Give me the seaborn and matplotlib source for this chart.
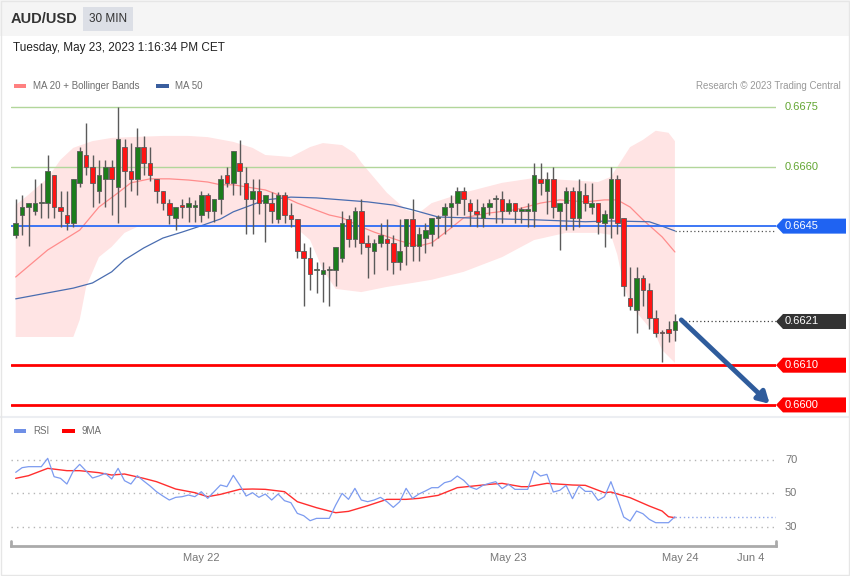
import numpy as np
import pandas as pd
import seaborn as sns
import matplotlib.pyplot as plt
import matplotlib.transforms as mtransforms
from matplotlib.patches import Rectangle, Polygon
from matplotlib.lines import Line2D

# ---- data (30 min candles, AUD/USD) ----
opens = [
    0.66428, 0.66478, 0.66499, 0.66488, 0.66507, 0.66509, 0.66579, 0.66499, 0.66478, 0.66459,
    0.66558, 0.66629, 0.66600, 0.66539, 0.66569, 0.66600, 0.66548, 0.66649, 0.66589, 0.66569,
    0.66649, 0.66608, 0.66569, 0.66539, 0.66509, 0.66470, 0.66500, 0.66499, 0.66499, 0.66479,
    0.66529, 0.66488, 0.66518, 0.66579, 0.66558, 0.66608, 0.66558, 0.66518, 0.66539, 0.66509,
    0.66509, 0.66468, 0.66529, 0.66478, 0.66468, 0.66388, 0.66369, 0.66340, 0.66329, 0.66340,
    0.66340, 0.66369, 0.66468, 0.66418, 0.66488, 0.66408, 0.66388, 0.66408, 0.66418, 0.66408,
    0.66359, 0.66401, 0.66468, 0.66401, 0.66420, 0.66430, 0.66470, 0.66478, 0.66499, 0.66509,
    0.66539, 0.66509, 0.66489, 0.66470, 0.66499, 0.66518, 0.66518, 0.66489, 0.66509, 0.66489,
    0.66489, 0.66489, 0.66568, 0.66539, 0.66568, 0.66489, 0.66509, 0.66539, 0.66470, 0.66529,
    0.66499, 0.66509, 0.66459, 0.66470, 0.66568, 0.66470, 0.66270, 0.66239, 0.66319, 0.66289,
    0.66220, 0.66181, 0.66191, 0.66189]
highs = [
    0.66519, 0.66529, 0.66509, 0.66569, 0.66559, 0.66629, 0.66579, 0.66539, 0.66539, 0.66569,
    0.66650, 0.66709, 0.66629, 0.66617, 0.66617, 0.66617, 0.66749, 0.66669, 0.66659, 0.66698,
    0.66678, 0.66649, 0.66569, 0.66539, 0.66518, 0.66499, 0.66518, 0.66523, 0.66516, 0.66539,
    0.66534, 0.66518, 0.66579, 0.66600, 0.66638, 0.66667, 0.66598, 0.66569, 0.66569, 0.66529,
    0.66537, 0.66537, 0.66537, 0.66508, 0.66468, 0.66408, 0.66398, 0.66359, 0.66359, 0.66350,
    0.66398, 0.66488, 0.66478, 0.66499, 0.66518, 0.66428, 0.66418, 0.66457, 0.66468, 0.66428,
    0.66468, 0.66468, 0.66518, 0.66449, 0.66459, 0.66470, 0.66478, 0.66508, 0.66529, 0.66549,
    0.66549, 0.66518, 0.66518, 0.66509, 0.66518, 0.66529, 0.66539, 0.66518, 0.66509, 0.66499,
    0.66508, 0.66608, 0.66608, 0.66587, 0.66598, 0.66509, 0.66549, 0.66549, 0.66568, 0.66558,
    0.66558, 0.66509, 0.66491, 0.66598, 0.66579, 0.66470, 0.66348, 0.66348, 0.66327, 0.66308,
    0.66239, 0.66189, 0.66210, 0.66230]
lows = [
    0.66420, 0.66428, 0.66400, 0.66478, 0.66470, 0.66470, 0.66470, 0.66449, 0.66439, 0.66449,
    0.66549, 0.66579, 0.66499, 0.66509, 0.66499, 0.66478, 0.66459, 0.66499, 0.66539, 0.66529,
    0.66579, 0.66564, 0.66509, 0.66491, 0.66456, 0.66440, 0.66470, 0.66460, 0.66460, 0.66460,
    0.66470, 0.66460, 0.66480, 0.66549, 0.66529, 0.66529, 0.66430, 0.66430, 0.66480, 0.66409,
    0.66459, 0.66457, 0.66457, 0.66449, 0.66369, 0.66250, 0.66289, 0.66281, 0.66260, 0.66250,
    0.66300, 0.66359, 0.66398, 0.66398, 0.66379, 0.66319, 0.66329, 0.66398, 0.66340, 0.66329,
    0.66340, 0.66352, 0.66361, 0.66361, 0.66382, 0.66400, 0.66420, 0.66430, 0.66449, 0.66478,
    0.66478, 0.66451, 0.66449, 0.66449, 0.66478, 0.66459, 0.66459, 0.66480, 0.66459, 0.66459,
    0.66449, 0.66449, 0.66529, 0.66480, 0.66470, 0.66390, 0.66440, 0.66440, 0.66449, 0.66489,
    0.66480, 0.66430, 0.66398, 0.66420, 0.66430, 0.66273, 0.66239, 0.66180, 0.66250, 0.66191,
    0.66170, 0.66109, 0.66159, 0.66162]
closes = [
    0.66459, 0.66499, 0.66509, 0.66509, 0.66509, 0.66589, 0.66499, 0.66488, 0.66459, 0.66569,
    0.66639, 0.66600, 0.66558, 0.66579, 0.66600, 0.66569, 0.66669, 0.66589, 0.66569, 0.66649,
    0.66608, 0.66579, 0.66539, 0.66509, 0.66479, 0.66499, 0.66499, 0.66509, 0.66500, 0.66529,
    0.66488, 0.66518, 0.66569, 0.66558, 0.66638, 0.66589, 0.66518, 0.66539, 0.66509, 0.66529,
    0.66488, 0.66529, 0.66478, 0.66468, 0.66388, 0.66369, 0.66329, 0.66340, 0.66340, 0.66341,
    0.66398, 0.66459, 0.66418, 0.66488, 0.66408, 0.66398, 0.66408, 0.66428, 0.66408, 0.66359,
    0.66388, 0.66468, 0.66401, 0.66430, 0.66440, 0.66470, 0.66471, 0.66499, 0.66509, 0.66539,
    0.66518, 0.66489, 0.66480, 0.66499, 0.66509, 0.66519, 0.66489, 0.66509, 0.66489, 0.66490,
    0.66490, 0.66579, 0.66558, 0.66568, 0.66499, 0.66509, 0.66539, 0.66470, 0.66539, 0.66509,
    0.66509, 0.66461, 0.66480, 0.66568, 0.66459, 0.66300, 0.66250, 0.66319, 0.66289, 0.66220,
    0.66180, 0.66180, 0.66180, 0.66210]

# Bollinger bands / moving averages, read at candle indices
bb_up_idx = [0, 2, 5, 7, 9, 12, 15, 18, 23, 27, 30, 34, 37, 39, 43, 46, 48, 51, 53, 54,
             58, 61, 63, 65, 70, 76, 81, 86, 91, 93, 94, 96, 98, 100, 102, 103]
bb_up = [0.66503, 0.66529, 0.66571, 0.66617, 0.66647, 0.66664, 0.66672, 0.66674, 0.66677, 0.66677,
         0.66674, 0.66662, 0.66647, 0.66629, 0.66624, 0.66649, 0.66659, 0.66654, 0.66633, 0.66610,
         0.66534, 0.66491, 0.66483, 0.66508, 0.66534, 0.66559, 0.66571, 0.66566, 0.66561, 0.66574,
         0.66599, 0.66649, 0.66667, 0.66690, 0.66685, 0.66664]
bb_lo_idx = [0, 9, 10, 11, 13, 15, 17, 19, 32, 43, 44, 46, 48, 50, 54, 58, 62, 65, 70, 76,
             81, 86, 91, 93, 94, 95, 96, 98, 100, 101, 103]
bb_lo = [0.66171, 0.66171, 0.66214, 0.66297, 0.66372, 0.66398, 0.66433, 0.66448, 0.66450, 0.66450,
         0.66443, 0.66415, 0.66340, 0.66292, 0.66284, 0.66297, 0.66307, 0.66315, 0.66335, 0.66372,
         0.66415, 0.66433, 0.66433, 0.66428, 0.66378, 0.66302, 0.66252, 0.66214, 0.66176, 0.66138,
         0.66106]
ma20_idx = [0, 5, 10, 13, 16, 18, 21, 24, 27, 30, 32, 34, 39, 42, 44, 49, 51, 54, 56, 60,
            63, 65, 68, 70, 74, 78, 82, 85, 89, 92, 94, 96, 98, 101, 103]
ma20 = [0.66322, 0.66390, 0.66440, 0.66498, 0.66534, 0.66559, 0.66569, 0.66569, 0.66566, 0.66561,
        0.66554, 0.66554, 0.66541, 0.66523, 0.66508, 0.66478, 0.66471, 0.66448, 0.66435, 0.66413,
        0.66400, 0.66408, 0.66445, 0.66471, 0.66483, 0.66491, 0.66508, 0.66516, 0.66511, 0.66516,
        0.66516, 0.66498, 0.66466, 0.66423, 0.66385]
ma50_idx = [0, 5, 9, 12, 15, 17, 20, 23, 26, 29, 32, 34, 39, 43, 47, 51, 55, 59, 62, 66,
            70, 76, 81, 89, 93, 99, 101, 103]
ma50 = [0.66267, 0.66282, 0.66294, 0.66307, 0.66335, 0.66365, 0.66395, 0.66420, 0.66435, 0.66451,
        0.66468, 0.66486, 0.66516, 0.66523, 0.66521, 0.66516, 0.66511, 0.66503, 0.66491, 0.66473,
        0.66471, 0.66468, 0.66466, 0.66461, 0.66463, 0.66461, 0.66450, 0.66438]

rsi = [62.6, 65.4, 66.0, 66.0, 66.0, 71.0, 60.0, 59.0, 55.6, 63.4,
       67.4, 63.4, 59.2, 60.4, 62.0, 58.6, 65.0, 57.6, 55.6, 60.6,
       57.4, 54.4, 51.0, 48.4, 46.0, 47.6, 48.0, 49.0, 48.0, 51.0,
       47.0, 51.0, 55.0, 54.0, 60.8, 55.0, 48.4, 50.4, 47.6, 49.6,
       46.0, 49.6, 45.6, 44.4, 38.0, 36.6, 33.6, 35.0, 35.0, 35.0,
       43.0, 50.0, 46.4, 53.0, 46.0, 45.0, 46.0, 47.6, 45.0, 41.6,
       45.0, 53.0, 47.0, 49.6, 51.4, 53.4, 53.4, 56.4, 57.4, 60.4,
       57.8, 53.8, 52.4, 54.8, 56.0, 57.0, 52.8, 55.4, 52.4, 52.4,
       52.4, 63.4, 60.4, 61.4, 50.8, 51.8, 54.8, 46.8, 54.4, 51.2,
       51.2, 45.8, 48.0, 57.0, 46.8, 35.8, 33.4, 39.4, 37.8, 34.4,
       32.4, 32.4, 32.4, 36.0]
ma9_idx = [0, 2, 5, 8, 10, 13, 15, 17, 20, 22, 25, 28, 30, 32, 35, 37, 39, 42, 44, 47,
           50, 52, 55, 58, 61, 63, 66, 69, 74, 76, 79, 80, 83, 87, 89, 92, 93, 96, 99, 101,
           102, 103]
ma9 = [59.0, 60.6, 65.0, 63.6, 63.6, 62.4, 61.0, 61.6, 59.0, 57.0,
       52.6, 50.4, 48.0, 49.4, 52.4, 52.6, 52.4, 51.0, 45.0, 41.4,
       38.4, 39.2, 42.6, 46.4, 46.4, 47.0, 48.8, 53.4, 55.4, 56.0,
       54.0, 54.0, 56.0, 55.0, 54.8, 50.4, 50.8, 47.4, 42.4, 39.4,
       36.0, 35.4]

resistances = [0.6675, 0.6660]
pivot = 0.6645
last_price = 0.6621
supports = [0.6610, 0.6600]
rsi_levels = [70, 50, 30]
date_ticks = [29, 77, 103.8, 114.9]
date_labels = ["May 22", "May 23", "May 24", "Jun 4"]

# ---- style ----
sns.set_theme(style="white")
plt.rcParams['font.family'] = ['Liberation Sans', 'DejaVu Sans']

W, H = 850, 576
GREEN_C = "#1c7c1c"
RED_C = "#ff1414"
PINK = "#ffe4e4"
TXT = "#6e6e6e"


def fx(px):
    return px / W


def fy(py):
    return 1 - py / H


fig = plt.figure(figsize=(W / 100, H / 100), dpi=100)
fig.patch.set_facecolor("white")

# header band and frame
fig.add_artist(Rectangle((0, fy(36)), 1, 36 / H, transform=fig.transFigure,
                         facecolor="#f5f5f5", edgecolor="none", zorder=0))
fig.add_artist(Rectangle((fx(83), fy(31)), fx(50), 24 / H, transform=fig.transFigure,
                         facecolor="#dcdfe6", edgecolor="none", zorder=1))
fig.add_artist(Line2D([0, 1], [fy(416.5)] * 2, transform=fig.transFigure,
                      color="#eceef2", lw=1.5, zorder=1))
fig.add_artist(Rectangle((0.001, 0.001), 0.998, 0.998, transform=fig.transFigure,
                         fill=False, edgecolor="#e6e6e6", lw=1.0, zorder=5))

fig.text(fx(11), fy(19), "AUD/USD", fontsize=10.5, fontweight="bold", color="#333333", va="center")
fig.text(fx(108), fy(19), "30 MIN", fontsize=8.5, color="#333333", va="center", ha="center")
fig.text(fx(13), fy(48), "Tuesday, May 23, 2023 1:16:34 PM CET", fontsize=8.5, color="#222222", va="center")

# legends
fig.add_artist(Rectangle((fx(14), fy(88)), fx(12), 4 / H, transform=fig.transFigure,
                         facecolor="#ff8080", edgecolor="none"))
fig.text(fx(33), fy(86), "MA 20 + Bollinger Bands", fontsize=7, color=TXT, va="center")
fig.add_artist(Rectangle((fx(156), fy(88)), fx(13), 4 / H, transform=fig.transFigure,
                         facecolor="#3a5e9e", edgecolor="none"))
fig.text(fx(175), fy(86), "MA 50", fontsize=7, color=TXT, va="center")
fig.text(fx(841), fy(86), "Research \u00a9 2023 Trading Central", fontsize=7, color="#999999",
         va="center", ha="right")

fig.add_artist(Rectangle((fx(14), fy(433)), fx(12), 4 / H, transform=fig.transFigure,
                         facecolor="#6f8fe6", edgecolor="none"))
fig.text(fx(33), fy(431), "RSI", fontsize=7, color=TXT, va="center")
fig.add_artist(Rectangle((fx(62), fy(433)), fx(13), 4 / H, transform=fig.transFigure,
                         facecolor="#ff0000", edgecolor="none"))
fig.text(fx(82), fy(431), "9MA", fontsize=7, color=TXT, va="center")

# ---- price panel ----
ax = fig.add_axes([fx(11), fy(413), fx(776) - fx(11), (413 - 95) / H])
ax.patch.set_alpha(0)
x_lo = (11 - 15.7) / 6.4
x_hi = (776 - 15.7) / 6.4
ax.set_xlim(x_lo, x_hi)
ax.set_ylim(0.659797, 0.66780)
for s in ax.spines.values():
    s.set_visible(False)
ax.set_xticks([])
ax.set_yticks([])

band_x = np.r_[bb_up_idx, bb_lo_idx[::-1]]
band_y = np.r_[bb_up, bb_lo[::-1]]
ax.fill(band_x, band_y, color=PINK, lw=0, zorder=1)
sns.lineplot(x=ma20_idx, y=ma20, ax=ax, color="#ff8c8c", lw=0.9, zorder=2)
sns.lineplot(x=ma50_idx, y=ma50, ax=ax, color="#4a6db0", lw=0.9, zorder=2)
ax.plot([ma50_idx[-1], x_hi], [ma50[-1]] * 2, ls=(0, (1, 2)), color="#555555", lw=0.9, zorder=2)

for lv in resistances:
    ax.axhline(lv, color="#b2d69a", lw=1.0, zorder=3)
ax.axhline(pivot, color="#2d6cf5", lw=1.3, zorder=3)
for lv in supports:
    ax.axhline(lv, color="#ff0000", lw=2.0, zorder=3)
ax.plot([104.0, x_hi], [last_price] * 2, ls=(0, (1, 2)), color="#444444", lw=0.9, zorder=3)

# candles
idx = np.arange(len(opens))
o = np.array(opens)
c = np.array(closes)
up = c >= o
ax.vlines(idx, lows, highs, color="#5a5a5a", lw=1.0, zorder=4)
body_lo = np.minimum(o, c)
body_h = np.maximum(np.abs(c - o), 0.00003)
ax.bar(idx, body_h, bottom=body_lo, width=0.7,
       color=np.where(up, GREEN_C, RED_C), edgecolor="#5a5a5a", linewidth=0.6, zorder=5)

ax.annotate("", xy=(117.8, 0.66003), xytext=(104.0, 0.66214),
            arrowprops=dict(arrowstyle="-|>,head_length=0.55,head_width=0.32", color="#2f5c9c",
                            lw=3.5, shrinkA=0, shrinkB=0),
            annotation_clip=False, zorder=6)

# right side price tags
tr = mtransforms.blended_transform_factory(fig.transFigure, ax.transData)
half = 7.5 / 39733


def tag(value, label, color):
    pts = [(fx(776), value), (fx(783), value + half), (fx(846), value + half),
           (fx(846), value - half), (fx(783), value - half)]
    fig.add_artist(Polygon(pts, closed=True, transform=tr, facecolor=color, edgecolor="none", zorder=6))
    fig.text(fx(785), value, label, transform=tr, color="white", fontsize=8, va="center", zorder=7)


for lv in resistances:
    fig.text(fx(785), lv, f"{lv:.4f}", transform=tr, color="#62a632", fontsize=8, va="center")
tag(pivot, f"{pivot:.4f}", "#1f63f2")
tag(last_price, f"{last_price:.4f}", "#333333")
for lv in supports:
    tag(lv, f"{lv:.4f}", "#ff0000")

# ---- RSI panel ----
ax2 = fig.add_axes([fx(11), fy(546), fx(776) - fx(11), (546 - 425) / H])
ax2.patch.set_alpha(0)
ax2.set_xlim(x_lo, x_hi)
ax2.set_ylim(18.43, 90.99)
for lv in rsi_levels:
    ax2.axhline(lv, color="#b5b5b5", lw=1.0, ls=(0, (1, 3)), zorder=1)
sns.lineplot(x=idx, y=rsi, ax=ax2, color="#7c9bf0", lw=0.9, zorder=3)
sns.lineplot(x=ma9_idx, y=ma9, ax=ax2, color="#ff2e2e", lw=1.0, zorder=2)
ax2.plot([idx[-1], x_hi], [rsi[-1]] * 2, ls=(0, (1, 2)), color="#8fa6ea", lw=1.0, zorder=2)

for s in ["top", "right", "left"]:
    ax2.spines[s].set_visible(False)
ax2.spines["bottom"].set_color("#aaaaaa")
ax2.spines["bottom"].set_linewidth(2)
for xe in (0, 1):
    ax2.plot([xe, xe], [0, 0.045], transform=ax2.transAxes, color="#aaaaaa", lw=2, clip_on=False)
ax2.set_yticks([])
ax2.set_xticks(date_ticks)
ax2.set_xticklabels(date_labels)
ax2.tick_params(axis="x", length=0, pad=5, labelsize=8, labelcolor="#777777")
ax2.set_xlabel("")
ax2.set_ylabel("")

tr2 = mtransforms.blended_transform_factory(fig.transFigure, ax2.transData)
for lv in rsi_levels:
    fig.text(fx(785), lv, str(lv), transform=tr2, color="#777777", fontsize=8, va="center")

fig.savefig("out.png", dpi=100)
